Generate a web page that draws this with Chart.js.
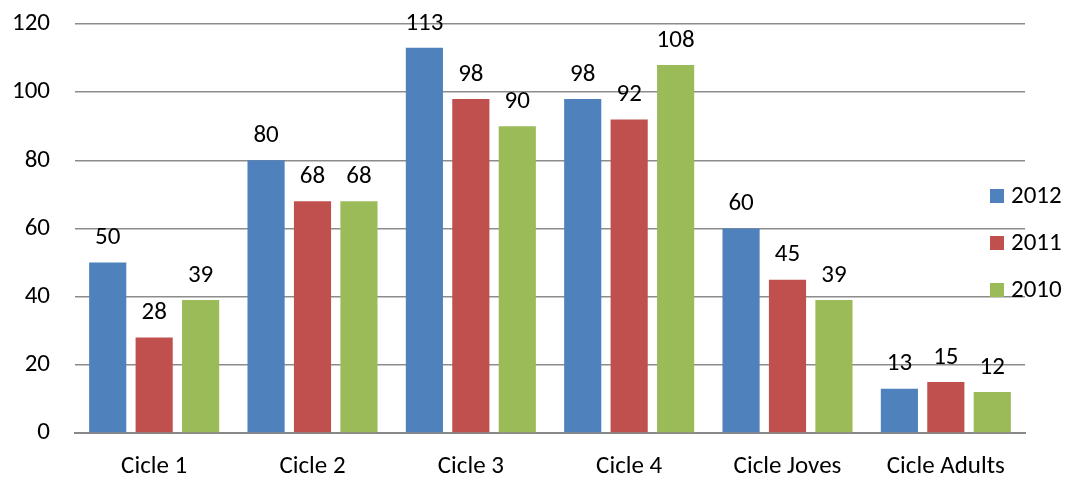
<!DOCTYPE html>
<html>
<head>
<meta charset="utf-8">
<script src="https://cdn.jsdelivr.net/npm/chart.js@4/dist/chart.umd.min.js"></script>
<style>
  html, body { margin: 0; padding: 0; background: #fff; }
  #wrap { width: 1066px; height: 480px; }
</style>
</head>
<body>
<div id="wrap"><canvas id="chart"></canvas></div>
<script>
// data
const categories = ['Cicle 1', 'Cicle 2', 'Cicle 3', 'Cicle 4', 'Cicle Joves', 'Cicle Adults'];
const values2012 = [50, 80, 113, 98, 60, 13];
const values2011 = [28, 68, 98, 92, 45, 15];
const values2010 = [39, 68, 90, 108, 39, 12];
const yTicks = [0, 20, 40, 60, 80, 100, 120];

const FONT = 'Carlito, Calibri, Lato, sans-serif';
const FONT_SIZE = 25;

// ----------------- PLUGINS -----------------

// value labels above every bar
const barLabels = {
    id: 'barLabels',
    afterDatasetsDraw(chart) {
        const ctx = chart.ctx;
        ctx.save();
        ctx.font = FONT_SIZE + 'px ' + FONT;
        ctx.fillStyle = '#000';
        ctx.textAlign = 'center';
        ctx.textBaseline = 'bottom';
        chart.data.datasets.forEach((ds, i) => {
            chart.getDatasetMeta(i).data.forEach((bar, j) => {
                ctx.fillText(ds.data[j], bar.x, bar.y - 12);
            });
        });
        ctx.restore();
    }
};

// legend sits over the right end of the plot, like the original
const sideLegend = {
    id: 'sideLegend',
    afterDraw(chart) {
        const ctx = chart.ctx;
        ctx.save();
        ctx.font = FONT_SIZE + 'px ' + FONT;
        ctx.textBaseline = 'middle';
        chart.data.datasets.forEach((ds, i) => {
            const y = 196 + i * 47;
            ctx.fillStyle = ds.backgroundColor;
            ctx.fillRect(990, y - 7, 14, 14);
            ctx.fillStyle = '#000';
            ctx.fillText(ds.label, 1011, y + 1);
        });
        ctx.restore();
    }
};

const ctx_chart = document.getElementById('chart').getContext('2d');
const chart = new Chart(ctx_chart, {
    type: 'bar',
    data: {
        labels: categories,
        datasets: [
            { label: '2012', data: values2012, backgroundColor: '#4F81BD' },
            { label: '2011', data: values2011, backgroundColor: '#C0504D' },
            { label: '2010', data: values2010, backgroundColor: '#9BBB59' }
        ]
    },
    options: {
        responsive: true,
        maintainAspectRatio: false,
        animation: false,
        devicePixelRatio: 1,
        layout: { padding: { left: 0, right: 41, top: 24, bottom: 0 } },
        datasets: {
            bar: { categoryPercentage: 0.88, barPercentage: 0.8 }
        },
        plugins: {
            legend: { display: false },
            tooltip: { enabled: false }
        },
        scales: {
            x: {
                afterFit(scale) { scale.height = 47; scale.paddingLeft = 0; scale.paddingRight = 0; },
                grid: { display: false, drawTicks: false },
                border: { display: true, color: '#888888', width: 2 },
                ticks: {
                    color: '#000',
                    font: { family: FONT, size: FONT_SIZE },
                    padding: 19,
                    maxRotation: 0
                }
            },
            y: {
                min: 0,
                max: 120,
                afterFit(scale) { scale.width = 75; scale.paddingTop = 0; scale.paddingBottom = 0; },
                afterBuildTicks(scale) {
                    scale.ticks = yTicks.map(v => ({ value: v }));
                },
                grid: { color: '#8c8c8c', lineWidth: 1.6, drawTicks: false },
                border: { display: false },
                ticks: {
                    color: '#000',
                    font: { family: FONT, size: FONT_SIZE },
                    padding: 25
                }
            }
        }
    },
    plugins: [barLabels, sideLegend]
});
</script>
</body>
</html>
